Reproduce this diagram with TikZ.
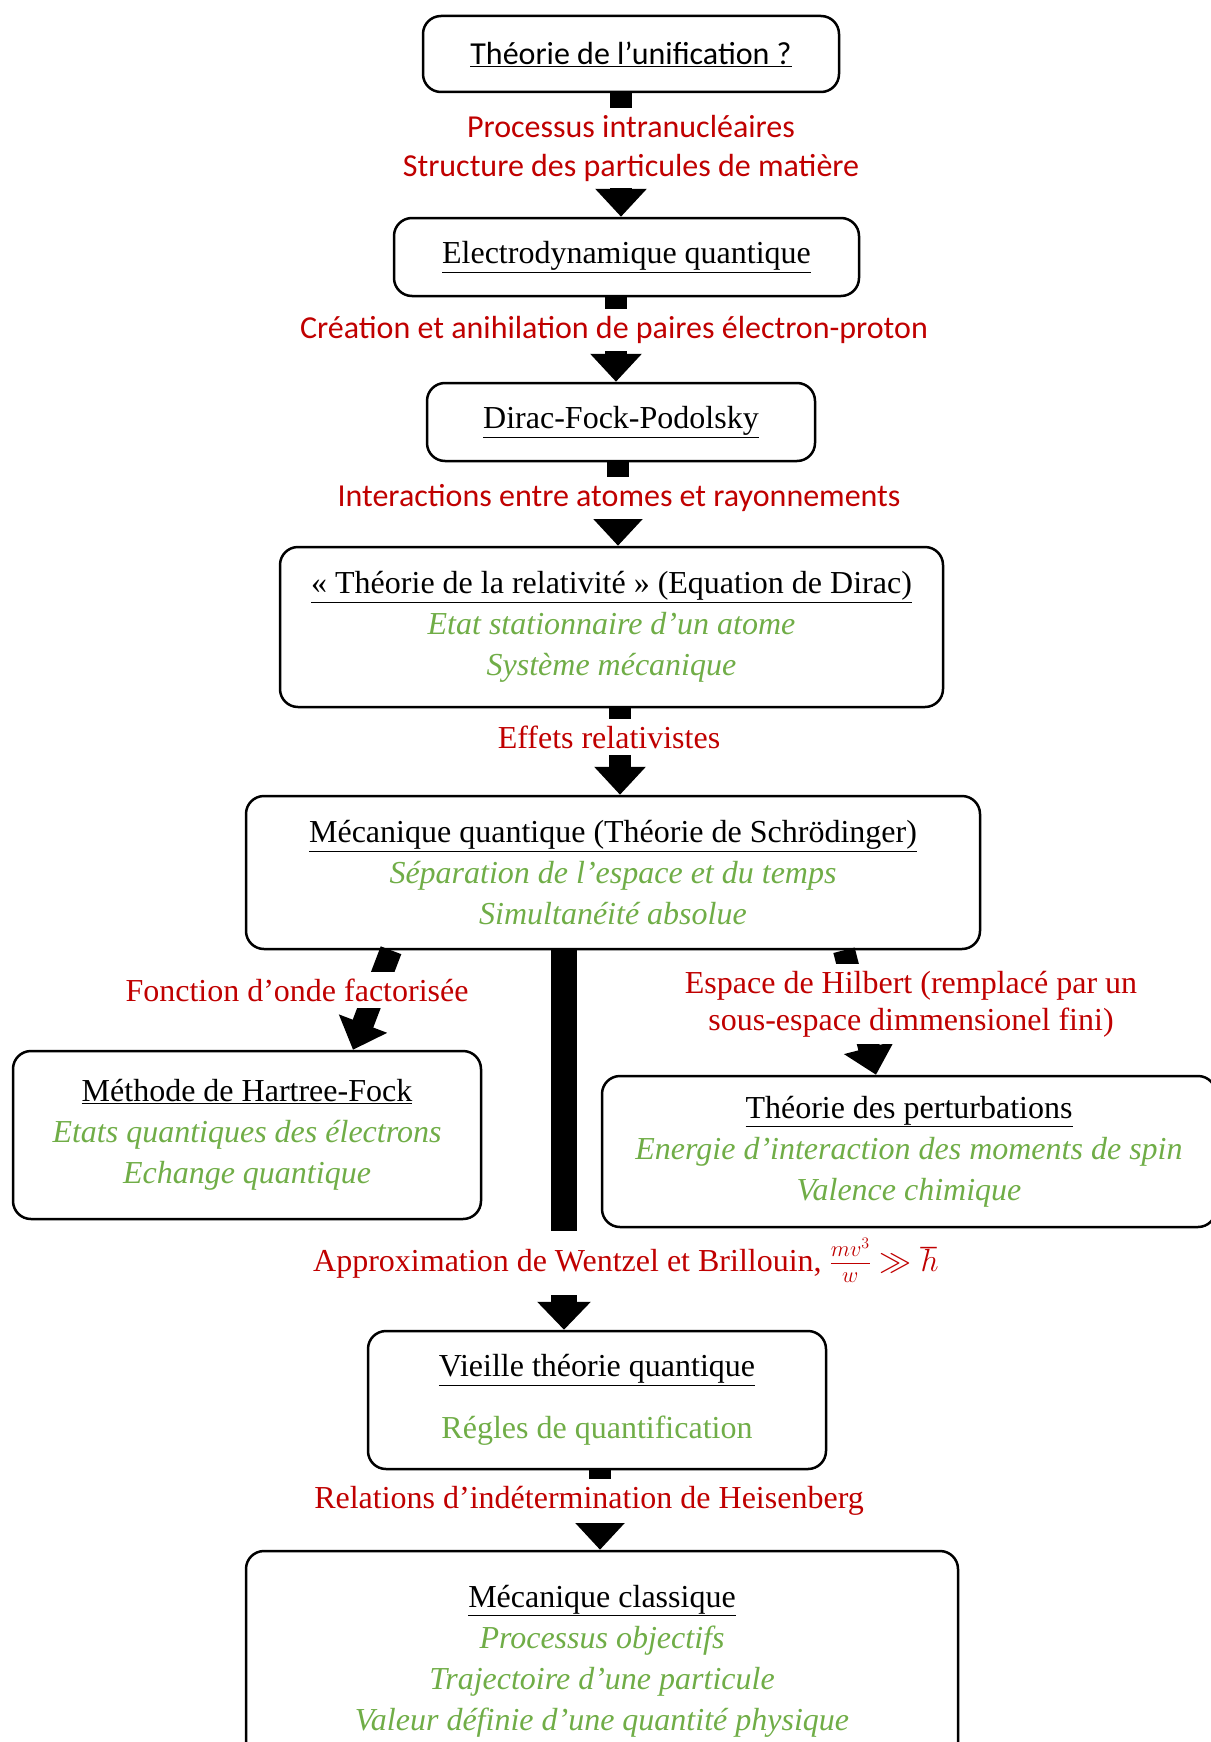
\RequirePackage{fix-cm}
\documentclass[tikz,border=0pt]{standalone}
\usepackage{fontspec}
\setmainfont{Liberation Serif}
\newfontfamily\calib{Carlito}
\usetikzlibrary{arrows.meta}
\definecolor{lblred}{HTML}{C00000}
\definecolor{leafgreen}{HTML}{70AD47}
\newcommand{\titre}[1]{\underline{#1}}
\newcommand{\detail}[1]{{\color{leafgreen}\itshape #1}}
\newcommand{\detailup}[1]{{\color{leafgreen}#1}}
\tikzset{
  box/.style={draw, line width=2.5pt, rounded corners=18pt, align=center, inner sep=0pt},
  sanstext/.style={font=\calib\fontsize{32}{39}\selectfont},
  bigarrow/.style={line width=22pt, -{Triangle[width=50pt,length=28pt]}},
  lbl/.style={fill=white, text=lblred, align=center, inner xsep=4pt, inner ysep=7pt}
}

\begin{document}
\begin{tikzpicture}[x=1pt, y=-1pt, font=\fontsize{32}{41}\selectfont]
\useasboundingbox (0,0) rectangle (1210,1742);

% boxes
\node[box, sanstext, minimum width=416pt, minimum height=76pt] (unif) at (631,54)
  {\titre{Théorie de l’unification ?}};
\node[box, minimum width=465pt, minimum height=78pt] (qed) at (626.5,257)
  {\titre{Electrodynamique quantique}};
\node[box, minimum width=388pt, minimum height=78pt] (dfp) at (621,422)
  {\titre{Dirac-Fock-Podolsky}};
\node[box, minimum width=663pt, minimum height=160pt] (rel) at (611.5,627)
  {\titre{« Théorie de la relativité » (Equation de Dirac)}\\
   \detail{Etat stationnaire d’un atome}\\
   \detail{Système mécanique}};
\node[box, minimum width=734pt, minimum height=153pt] (schr) at (613,872.5)
  {\titre{Mécanique quantique (Théorie de Schrödinger)}\\
   \detail{Séparation de l’espace et du temps}\\
   \detail{Simultanéité absolue}};
\node[box, minimum width=468pt, minimum height=168pt] (hf) at (247,1135)
  {\titre{Méthode de Hartree-Fock}\\
   \detail{Etats quantiques des électrons}\\
   \detail{Echange quantique}};
\node[box, minimum width=614pt, minimum height=151pt] (pert) at (909,1151.5)
  {\titre{Théorie des perturbations}\\
   \detail{Energie d’interaction des moments de spin}\\
   \detail{Valence chimique}};
\node[box, minimum width=458pt, minimum height=138pt] (vieille) at (597,1400)
  {\titre{Vieille théorie quantique}\\[21pt]
   \detailup{Régles de quantification}};
\node[box, minimum width=712pt, minimum height=220pt] (classique) at (602,1661)
  {\titre{Mécanique classique}\\
   \detail{Processus objectifs}\\
   \detail{Trajectoire d’une particule}\\
   \detail{Valeur définie d’une quantité physique}};

% arrows
\draw[bigarrow] ([xshift=-10pt]unif.south) -- ([xshift=-5.5pt]qed.north);
\draw[bigarrow] ([xshift=-10.5pt]qed.south) -- ([xshift=-5pt]dfp.north);
\draw[bigarrow] ([xshift=-3pt]dfp.south) -- ([xshift=6.5pt]rel.north);
\draw[bigarrow] ([xshift=8.5pt]rel.south) -- ([xshift=7pt]schr.north);
\draw[bigarrow] ([xshift=-222pt]schr.south) -- ([xshift=106pt]hf.north);
\draw[bigarrow] ([xshift=231pt]schr.south) -- ([xshift=-33pt]pert.north);
\draw[bigarrow, line width=26pt, -{Triangle[width=52pt,length=28pt]}]
  ([xshift=-49pt]schr.south) -- ([xshift=-33pt]vieille.north);
\draw[bigarrow] ([xshift=3pt]vieille.south) -- ([xshift=-2pt]classique.north);

% labels
\node[lbl, sanstext] (intra) at (631,148)
  {Processus intranucléaires\\Structure des particules de matière};
\node[lbl, sanstext] (paires) at (614,330)
  {Création et anihilation de paires électron-proton};
\node[lbl, sanstext] (rayon) at (619,498)
  {Interactions entre atomes et rayonnements};
\node[lbl] (effets) at (609,737) {Effets relativistes};
\node[lbl] (onde) at (297,990) {Fonction d’onde factorisée};
\node[lbl, font=\fontsize{32}{37}\selectfont] (hilbert) at (911,1004)
  {Espace de Hilbert (remplacé par un\\sous-espace dimmensionel fini)};
\node[lbl] (wkb) at (626,1263)
  {Approximation de Wentzel et Brillouin, $\frac{\mathstrut mv^3}{\mathstrut w}\gg\hbar$};
\node[lbl] (heis) at (589,1501) {Relations d’indétermination de Heisenberg};
\end{tikzpicture}
\end{document}
